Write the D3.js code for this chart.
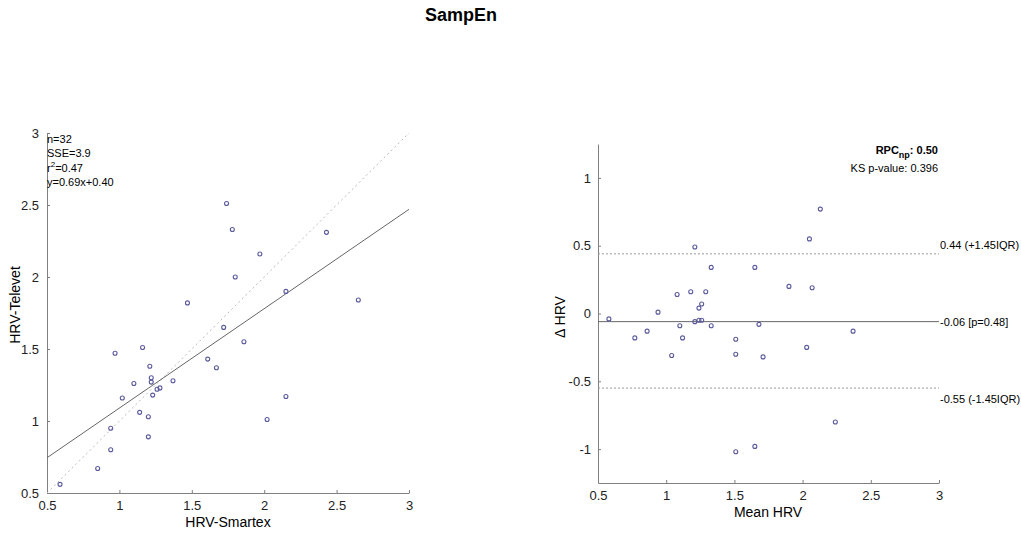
<!DOCTYPE html>
<html>
<head>
<meta charset="utf-8">
<script src="https://cdn.jsdelivr.net/npm/d3@7"></script>
<style>
  body { margin: 0; background: #fff; }
  svg { font-family: "Liberation Sans", Arial, sans-serif; }
  .axis path, .axis line { stroke: #808080; }
  .axis text { fill: #222; font-size: 13px; }
</style>
</head>
<body>
<svg width="1021" height="535"></svg>
<script>
let width = 1021, height = 535

// left panel: HRV-Smartex vs HRV-Televet
let smartex = [1.74, 1.78, 1.97, 1.80, 2.43, 2.15, 2.65, 1.47,
               1.72, 1.86, 0.97, 1.16, 1.61, 1.67, 1.21, 1.22,
               1.10, 1.22, 1.37, 1.28, 1.26, 1.23, 1.02, 1.14,
               1.20, 1.20, 0.94, 0.94, 0.85, 0.59, 2.15, 2.02]
let televet = [2.51, 2.33, 2.16, 2.00, 2.31, 1.90, 1.84, 1.82,
               1.65, 1.55, 1.47, 1.51, 1.43, 1.37, 1.38, 1.30,
               1.26, 1.27, 1.28, 1.23, 1.22, 1.18, 1.16, 1.06,
               1.03, 0.89, 0.95, 0.80, 0.67, 0.56, 1.17, 1.01]
let fitSlope = 0.69, fitIntercept = 0.40
let fitLabels = ["n=32", "SSE=3.9", "r|2|=0.47", "y=0.69x+0.40"]

// right panel: Bland-Altman
let meanHrv = [2.13, 2.05, 1.21, 1.33, 1.65, 1.90, 2.07, 1.08,
               1.18, 1.29, 1.26, 1.24, 0.94, 0.58, 0.77, 0.86,
               1.10, 1.12, 1.04, 1.21, 1.24, 1.26, 1.33, 1.51,
               1.51, 1.68, 1.71, 2.03, 2.37, 2.24, 1.65, 1.51]
let deltaHrv = [0.77, 0.55, 0.49, 0.34, 0.34, 0.20, 0.19, 0.14,
                0.16, 0.16, 0.07, 0.04, 0.01, -0.04, -0.18, -0.13,
                -0.09, -0.18, -0.31, -0.06, -0.05, -0.05, -0.09, -0.19,
                -0.30, -0.08, -0.32, -0.25, -0.13, -0.80, -0.98, -1.02]
let baMean = -0.06, baUpper = 0.44, baLower = -0.55
let baLabels = ["0.44 (+1.45IQR)", "-0.06 [p=0.48]", "-0.55 (-1.45IQR)"]

let ticks = [0.5, 1, 1.5, 2, 2.5, 3]
let baTicks = [-1, -0.5, 0, 0.5, 1]

let svg = d3.select("svg")
let markColor = "#5a5a9c"
let plain = d => String(d)   // keep hyphen minus like the original

svg.append("text")
  .attr("x", 461).attr("y", 21)
  .attr("text-anchor", "middle")
  .attr("font-size", 18).attr("font-weight", "bold")
  .text("SampEn")

// ---------- left scatter ----------
let xL = d3.scaleLinear().domain([0.5, 3]).range([47, 409])
let yL = d3.scaleLinear().domain([0.5, 3]).range([493, 133])

svg.append("g").attr("class", "axis")
  .attr("transform", "translate(0,493)")
  .call(d3.axisBottom(xL).tickValues(ticks).tickFormat(plain).tickSizeInner(-3).tickSizeOuter(0).tickPadding(8))

svg.append("g").attr("class", "axis")
  .attr("transform", "translate(47,0)")
  .call(d3.axisLeft(yL).tickValues(ticks).tickFormat(plain).tickSizeInner(-3).tickSizeOuter(0).tickPadding(8))

// identity line
svg.append("line")
  .attr("x1", xL(0.5)).attr("y1", yL(0.5))
  .attr("x2", xL(3)).attr("y2", yL(3))
  .attr("stroke", "#bbb").attr("stroke-dasharray", "2,3")

// regression line
svg.append("line")
  .attr("x1", xL(0.5)).attr("y1", yL(fitSlope * 0.5 + fitIntercept))
  .attr("x2", xL(3)).attr("y2", yL(fitSlope * 3 + fitIntercept))
  .attr("stroke", "#666").attr("stroke-width", 1)

svg.append("g").selectAll("circle")
  .data(smartex)
  .join("circle")
  .attr("cx", d => xL(d))
  .attr("cy", (d, i) => yL(televet[i]))
  .attr("r", 2)
  .attr("fill", "none")
  .attr("stroke", markColor)
  .attr("stroke-width", 1.1)

// fit stats, "|2|" marks a superscript
svg.append("g").selectAll("text")
  .data(fitLabels)
  .join("text")
  .attr("x", 47)
  .attr("y", (d, i) => 143 + i * 14 + (i > 1 ? 1 : 0))
  .attr("font-size", 11)
  .each(function(d) {
    let parts = d.split("|")
    let t = d3.select(this)
    t.append("tspan").text(parts[0])
    if (parts.length > 1) {
      t.append("tspan").attr("dy", -5).attr("font-size", 8).text(parts[1])
      t.append("tspan").attr("dy", 5).text(parts[2])
    }
  })

svg.append("text")
  .attr("x", 228).attr("y", 527)
  .attr("text-anchor", "middle").attr("font-size", 14)
  .text("HRV-Smartex")

svg.append("text")
  .attr("transform", "translate(20,305) rotate(-90)")
  .attr("text-anchor", "middle").attr("font-size", 14)
  .text("HRV-Televet")

// ---------- right Bland-Altman ----------
let xR = d3.scaleLinear().domain([0.5, 3]).range([598, 939])
let yR = d3.scaleLinear().domain([-1.25, 1.25]).range([483, 144])

svg.append("g").attr("class", "axis")
  .attr("transform", "translate(0,483)")
  .call(d3.axisBottom(xR).tickValues(ticks).tickFormat(plain).tickSizeInner(-3).tickSizeOuter(0).tickPadding(8))

svg.append("g").attr("class", "axis")
  .attr("transform", "translate(598,0)")
  .call(d3.axisLeft(yR).tickValues(baTicks).tickFormat(plain).tickSizeInner(-3).tickSizeOuter(0).tickPadding(7))

let levels = [baUpper, baMean, baLower]
svg.append("g").selectAll("line")
  .data(levels)
  .join("line")
  .attr("x1", xR(0.5)).attr("x2", xR(3))
  .attr("y1", d => yR(d)).attr("y2", d => yR(d))
  .attr("stroke", (d, i) => i === 1 ? "#666" : "#999")
  .attr("stroke-dasharray", (d, i) => i === 1 ? null : "2,2")

svg.append("g").selectAll("text")
  .data(baLabels)
  .join("text")
  .attr("x", xR(3) + 1)
  .attr("y", (d, i) => yR(levels[i]) + (i === 2 ? 15 : i === 1 ? 4 : -5))
  .attr("font-size", 11)
  .text(d => d)

svg.append("g").selectAll("circle")
  .data(meanHrv)
  .join("circle")
  .attr("cx", d => xR(d))
  .attr("cy", (d, i) => yR(deltaHrv[i]))
  .attr("r", 2)
  .attr("fill", "none")
  .attr("stroke", markColor)
  .attr("stroke-width", 1.1)

let rpc = svg.append("text")
  .attr("x", 938).attr("y", 154)
  .attr("text-anchor", "end").attr("font-size", 11).attr("font-weight", "bold")
rpc.append("tspan").text("RPC")
rpc.append("tspan").attr("dy", 4).attr("font-size", 9).text("np")
rpc.append("tspan").attr("dy", -4).text(": 0.50")

svg.append("text")
  .attr("x", 938).attr("y", 172)
  .attr("text-anchor", "end").attr("font-size", 11)
  .text("KS p-value: 0.396")

svg.append("text")
  .attr("x", 768).attr("y", 517)
  .attr("text-anchor", "middle").attr("font-size", 14)
  .text("Mean HRV")

svg.append("text")
  .attr("transform", "translate(565,317) rotate(-90)")
  .attr("text-anchor", "middle").attr("font-size", 14)
  .text("Δ HRV")
</script>
</body>
</html>
